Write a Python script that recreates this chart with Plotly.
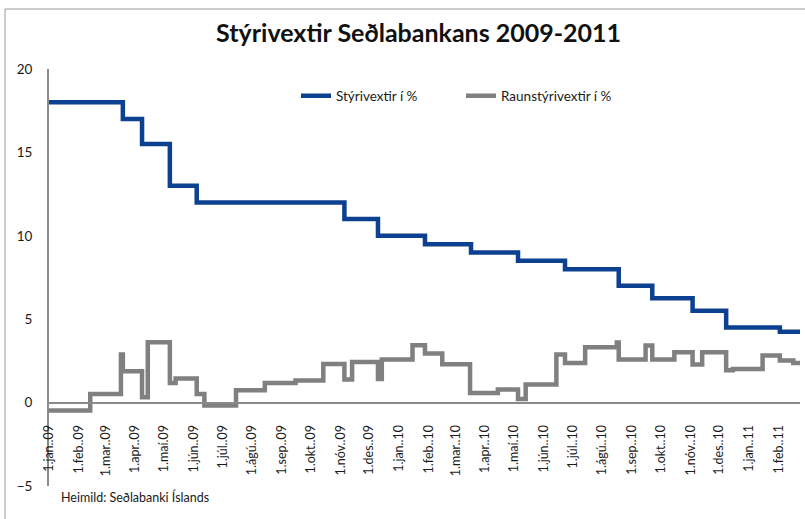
import plotly.graph_objects as go

# --- Data ---
policy_dates = ["2009-01-01", "2009-03-19", "2009-04-08", "2009-05-07", "2009-06-04",
                "2009-11-05", "2009-12-10", "2010-01-28", "2010-03-17", "2010-05-05",
                "2010-06-23", "2010-08-18", "2010-09-22", "2010-11-03", "2010-12-08",
                "2011-02-02", "2011-02-23"]
policy_rate = [18, 17, 15.5, 13, 12, 11, 10, 9.5, 9, 8.5, 8, 7, 6.25, 5.5, 4.5, 4.25, 4.25]

real_dates = ["2009-01-01", "2009-02-13", "2009-03-17", "2009-03-19", "2009-04-08",
              "2009-04-14", "2009-05-07", "2009-05-13", "2009-06-04", "2009-06-12",
              "2009-07-15", "2009-08-14", "2009-09-15", "2009-10-14", "2009-11-05",
              "2009-11-13", "2009-12-10", "2009-12-14", "2010-01-15", "2010-01-28",
              "2010-02-15", "2010-03-16", "2010-04-14", "2010-05-05", "2010-05-13",
              "2010-06-14", "2010-06-23", "2010-07-14", "2010-08-16", "2010-08-18",
              "2010-09-15", "2010-09-22", "2010-10-15", "2010-11-03", "2010-11-13",
              "2010-12-08", "2010-12-15", "2011-01-15", "2011-02-02", "2011-02-16",
              "2011-02-23"]
real_rate = [-0.48, 0.52, 2.88, 1.88, 0.32,
             3.62, 1.18, 1.44, 0.52, -0.18,
             0.74, 1.18, 1.32, 2.32, 1.38,
             2.44, 1.42, 2.58, 3.44, 2.94,
             2.30, 0.58, 0.78, 0.22, 1.08,
             2.88, 2.38, 3.32, 3.60, 2.58,
             3.42, 2.58, 3.02, 2.28, 3.02,
             1.94, 2.02, 2.82, 2.52, 2.38,
             2.38]

tick_dates = ["2009-01-01", "2009-02-01", "2009-03-01", "2009-04-01", "2009-05-01",
              "2009-06-01", "2009-07-01", "2009-08-01", "2009-09-01", "2009-10-01",
              "2009-11-01", "2009-12-01", "2010-01-01", "2010-02-01", "2010-03-01",
              "2010-04-01", "2010-05-01", "2010-06-01", "2010-07-01", "2010-08-01",
              "2010-09-01", "2010-10-01", "2010-11-01", "2010-12-01", "2011-01-01",
              "2011-02-01"]
tick_labels = ["1.jan..09", "1.feb..09", "1.mar..09", "1.apr..09", "1.maí.09",
               "1.jún..09", "1.júl..09", "1.ágú..09", "1.sep..09", "1.okt..09",
               "1.nóv..09", "1.des..09", "1.jan..10", "1.feb..10", "1.mar..10",
               "1.apr..10", "1.maí.10", "1.jún..10", "1.júl..10", "1.ágú..10",
               "1.sep..10", "1.okt..10", "1.nóv..10", "1.des..10", "1.jan..11",
               "1.feb..11"]

FONT = "Lato"

fig = go.Figure()
fig.add_trace(go.Scatter(x=policy_dates, y=policy_rate, mode="lines",
                         name="Stýrivextir í %", line=dict(color="#0C4091", width=4.5, shape="hv")))
fig.add_trace(go.Scatter(x=real_dates, y=real_rate, mode="lines",
                         name="Raunstýrivextir í %", line=dict(color="#808080", width=4.5, shape="hv")))

W, H = 805, 519
ml, mr, mt, mb = 49, 5, 69, 33
pw, ph = W - ml - mr, H - mt - mb

def px_x(p):
    return (p - ml) / pw

def px_y(p):
    return (H - mb - p) / ph

fig.update_layout(
    width=W, height=H,
    margin=dict(l=ml, r=mr, t=mt, b=mb),
    paper_bgcolor="white", plot_bgcolor="white",
    font=dict(family=FONT, color="#1a1a1a", size=13),
    title=dict(text="<b>Stýrivextir Seðlabankans 2009-2011</b>", x=0.52, xanchor="center",
               y=1 - 33 / H, yanchor="middle", font=dict(family=FONT, size=25, color="#111")),
    showlegend=True,
    legend=dict(orientation="h", x=px_x(296), y=px_y(96), xanchor="left", yanchor="middle",
                font=dict(family=FONT, size=13.5, color="#1a1a1a"), bgcolor="rgba(0,0,0,0)",
                entrywidth=120, entrywidthmode="pixels"),
    xaxis=dict(type="date", range=["2009-01-01", "2011-02-23"], anchor="free",
               position=px_y(403), showline=True, linecolor="#8a8a8a", linewidth=2,
               showgrid=False, zeroline=False, tickmode="array", tickvals=tick_dates,
               ticktext=tick_labels, tickangle=-90, ticks="", ticklabelstandoff=16,
               tickfont=dict(family=FONT, size=12.5, color="#1a1a1a")),
    yaxis=dict(range=[-5, 20], dtick=5, showline=True, linecolor="#8a8a8a", linewidth=2,
               showgrid=False, zeroline=False, ticks="", ticklabelstandoff=12,
               tickfont=dict(family=FONT, size=13.5, color="#1a1a1a")),
    shapes=[dict(type="rect", xref="paper", yref="paper", x0=px_x(5), x1=px_x(812),
                 y0=px_y(530), y1=px_y(9), line=dict(color="#999999", width=1),
                 fillcolor="rgba(0,0,0,0)", layer="below")],
    annotations=[dict(text="Heimild: Seðlabanki Íslands", xref="paper", yref="paper",
                      x=px_x(59), y=px_y(497), xanchor="left", yanchor="middle",
                      showarrow=False, font=dict(family=FONT, size=12.5, color="#1a1a1a"))],
)

fig.write_html("out.html", config={"displayModeBar": False},
               post_script="document.body.style.margin='0';document.body.style.overflow='hidden';")
